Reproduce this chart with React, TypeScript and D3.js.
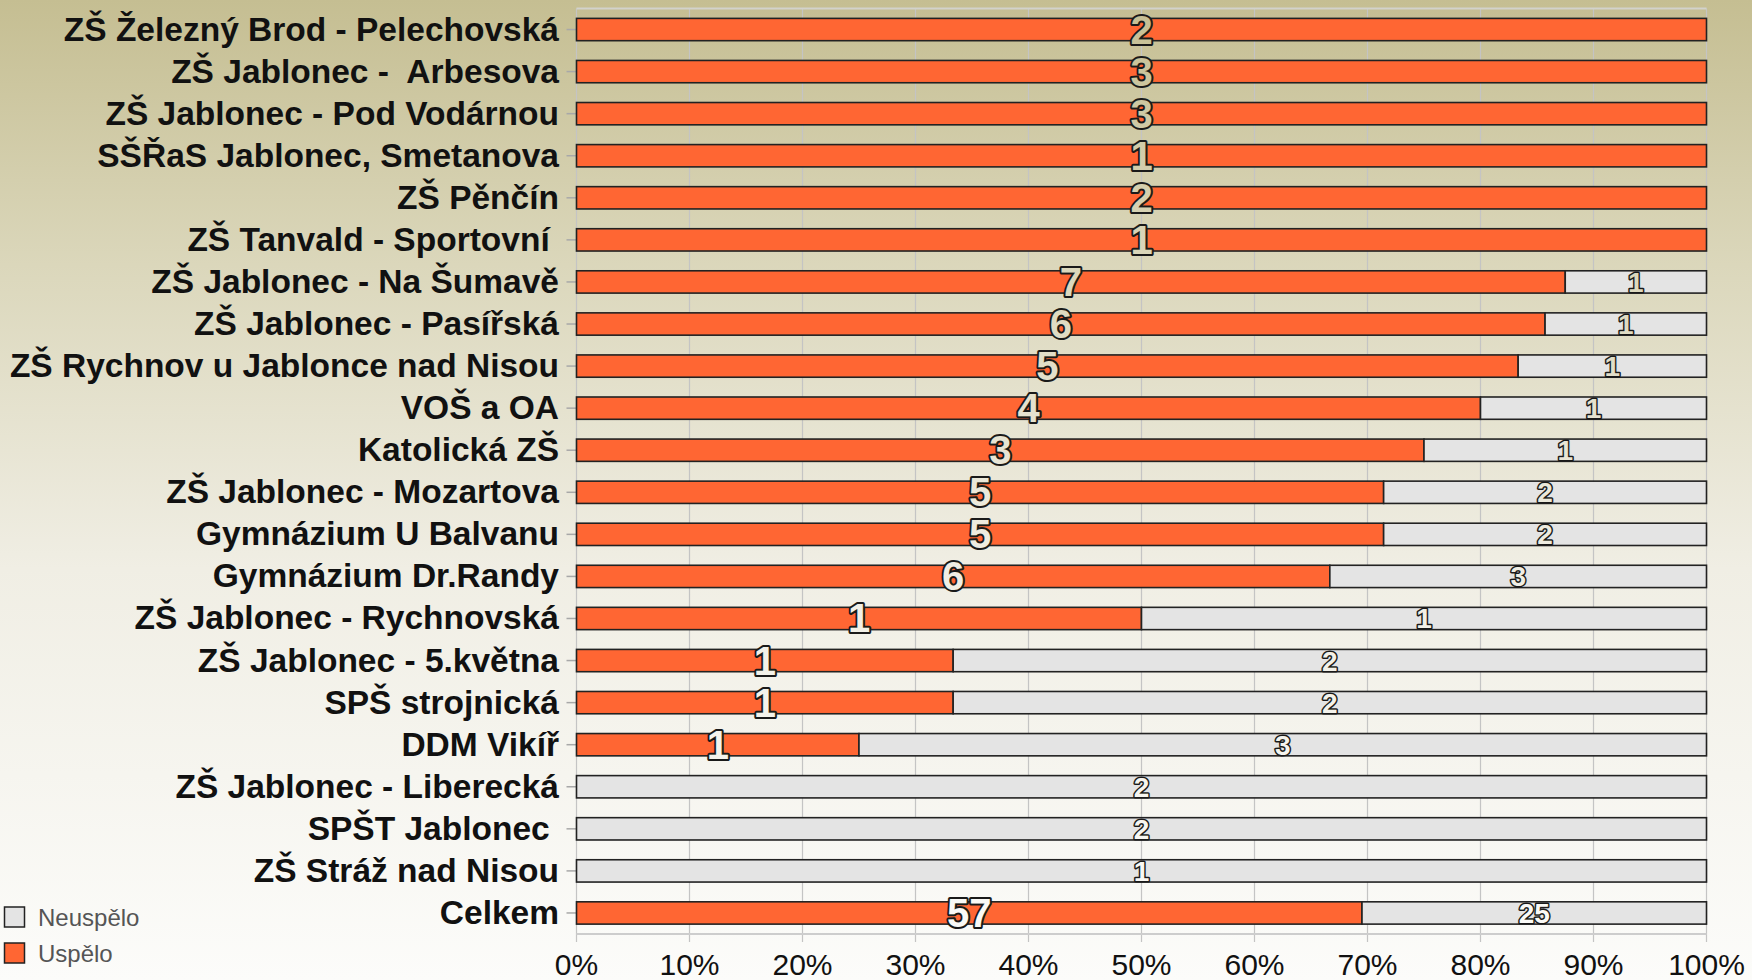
import React, { useEffect, useRef } from 'react';
import * as d3 from 'd3';

const schools = [
  'ZŠ Železný Brod - Pelechovská',
  'ZŠ Jablonec -  Arbesova',
  'ZŠ Jablonec - Pod Vodárnou',
  'SŠŘaS Jablonec, Smetanova',
  'ZŠ Pěnčín',
  'ZŠ Tanvald - Sportovní ',
  'ZŠ Jablonec - Na Šumavě',
  'ZŠ Jablonec - Pasířská',
  'ZŠ Rychnov u Jablonce nad Nisou',
  'VOŠ a OA',
  'Katolická ZŠ',
  'ZŠ Jablonec - Mozartova',
  'Gymnázium U Balvanu',
  'Gymnázium Dr.Randy',
  'ZŠ Jablonec - Rychnovská',
  'ZŠ Jablonec - 5.května',
  'SPŠ strojnická',
  'DDM Vikíř',
  'ZŠ Jablonec - Liberecká',
  'SPŠT Jablonec ',
  'ZŠ Stráž nad Nisou',
  'Celkem',
];
const uspelo = [2, 3, 3, 1, 2, 1, 7, 6, 5, 4, 3, 5, 5, 6, 1, 1, 1, 1, 0, 0, 0, 57];
const neuspelo = [0, 0, 0, 0, 0, 0, 1, 1, 1, 1, 1, 2, 2, 3, 1, 2, 2, 3, 2, 2, 1, 25];
const seriesNames = ['Uspělo', 'Neuspělo'];
const seriesColors = ['#ff6633', '#e4e4e4'];
const ticks = [0, 0.1, 0.2, 0.3, 0.4, 0.5, 0.6, 0.7, 0.8, 0.9, 1];

const W = 1752;
const H = 980;
const FONT = '"Liberation Sans", Arial, sans-serif';

const App = () => {
  const svgRef = useRef<SVGSVGElement>(null);

  useEffect(() => {
    const root = d3.select(svgRef.current);
    root.selectAll('*').remove();

    // background gradient (also reused as fill of the value labels)
    const defs = root.append('defs');
    const grad = defs
      .append('linearGradient')
      .attr('id', 'bg')
      .attr('gradientUnits', 'userSpaceOnUse')
      .attr('x1', 0)
      .attr('y1', 0)
      .attr('x2', 0)
      .attr('y2', H);
    [
      [0, '#c5be92'],
      [0.27, '#dbd7bb'],
      [0.58, '#f0eee4'],
      [1, '#fcfcfa'],
    ].forEach(([o, c]) => grad.append('stop').attr('offset', o as number).attr('stop-color', c as string));

    root.append('rect').attr('width', W).attr('height', H).attr('fill', 'url(#bg)');

    const left = 576.5;
    const right = 1706.5;
    const top = 8.5;
    const bottom = 934;

    const x = d3.scaleLinear().domain([0, 1]).range([left, right]);
    const y = d3.scaleBand().domain(schools).range([top, bottom]).paddingInner(0.47).paddingOuter(0.235);

    const rows = schools.map((s, i) => {
      const total = uspelo[i] + neuspelo[i];
      return { school: s, values: [uspelo[i], neuspelo[i]], total };
    });

    // gridlines + frame
    const grid = root.append('g');
    grid
      .selectAll('line')
      .data(ticks)
      .enter()
      .append('line')
      .attr('x1', (d) => x(d))
      .attr('x2', (d) => x(d))
      .attr('y1', top)
      .attr('y2', bottom + 8)
      .attr('stroke', '#c4c4c4')
      .attr('stroke-width', 1.2);
    grid
      .append('line')
      .attr('x1', left)
      .attr('x2', right)
      .attr('y1', top)
      .attr('y2', top)
      .attr('stroke', '#d2d2cc')
      .attr('stroke-width', 2);
    grid
      .append('line')
      .attr('x1', left)
      .attr('x2', right)
      .attr('y1', bottom)
      .attr('y2', bottom)
      .attr('stroke', '#cdcdcd')
      .attr('stroke-width', 2);

    // x tick labels
    root
      .append('g')
      .selectAll('text')
      .data(ticks)
      .enter()
      .append('text')
      .attr('x', (d) => x(d))
      .attr('y', 975)
      .attr('text-anchor', 'middle')
      .style('font-family', FONT)
      .style('font-size', '30px')
      .attr('fill', '#111')
      .text((d) => d3.format('.0%')(d));

    // y ticks and category labels
    const cats = root.append('g');
    cats
      .selectAll('line')
      .data(schools)
      .enter()
      .append('line')
      .attr('x1', left - 10)
      .attr('x2', left)
      .attr('y1', (d) => y(d)! + y.bandwidth() / 2)
      .attr('y2', (d) => y(d)! + y.bandwidth() / 2)
      .attr('stroke', '#a8a8a8')
      .attr('stroke-width', 1.5);
    cats
      .selectAll('text')
      .data(schools)
      .enter()
      .append('text')
      .attr('x', 559)
      .attr('y', (d) => y(d)! + y.bandwidth() / 2 + 11)
      .attr('text-anchor', 'end')
      .style('font-family', FONT)
      .style('font-size', '33.5px')
      .style('font-weight', 'bold')
      .style('white-space', 'pre')
      .attr('fill', '#111')
      .text((d) => d);

    // bars
    const segs: { school: string; k: number; x0: number; x1: number; v: number }[] = [];
    rows.forEach((r) => {
      let acc = 0;
      r.values.forEach((v, k) => {
        const x0 = acc / r.total;
        acc += v;
        segs.push({ school: r.school, k, x0, x1: acc / r.total, v });
      });
    });
    const visible = segs.filter((s) => s.v > 0);

    root
      .append('g')
      .selectAll('rect')
      .data(visible)
      .enter()
      .append('rect')
      .attr('x', (d) => x(d.x0))
      .attr('width', (d) => x(d.x1) - x(d.x0))
      .attr('y', (d) => y(d.school)!)
      .attr('height', y.bandwidth())
      .attr('fill', (d) => seriesColors[d.k])
      .attr('stroke', '#222')
      .attr('stroke-width', 1.6);

    // value labels
    root
      .append('g')
      .selectAll('text')
      .data(visible)
      .enter()
      .append('text')
      .attr('x', (d) => x((d.x0 + d.x1) / 2))
      .attr('y', (d) => y(d.school)! + y.bandwidth() / 2 + (d.k === 0 ? 14 : 10))
      .attr('text-anchor', 'middle')
      .style('font-family', FONT)
      .style('font-size', (d) => (d.k === 0 ? '40px' : '28px'))
      .style('font-weight', 'bold')
      .attr('fill', 'url(#bg)')
      .attr('stroke', '#1a1a1a')
      .attr('stroke-width', (d) => (d.k === 0 ? 4 : 3))
      .attr('stroke-linejoin', 'round')
      .attr('paint-order', 'stroke')
      .text((d) => d.v);

    // legend (Neuspělo on top)
    const legend = root.append('g');
    const legendItems = [1, 0];
    legendItems.forEach((k, i) => {
      const ly = 907 + i * 36;
      legend
        .append('rect')
        .attr('x', 4.5)
        .attr('y', ly)
        .attr('width', 20)
        .attr('height', 20)
        .attr('fill', seriesColors[k])
        .attr('stroke', '#222')
        .attr('stroke-width', 1.5);
      legend
        .append('text')
        .attr('x', 38)
        .attr('y', ly + 19)
        .style('font-family', FONT)
        .style('font-size', '24px')
        .attr('fill', '#555')
        .text(seriesNames[k]);
    });
  }, []);

  return (
    <svg
      ref={svgRef}
      width={W}
      height={H}
      style={{ position: 'absolute', left: 0, top: 0, display: 'block' }}
    ></svg>
  );
};

export default App;
